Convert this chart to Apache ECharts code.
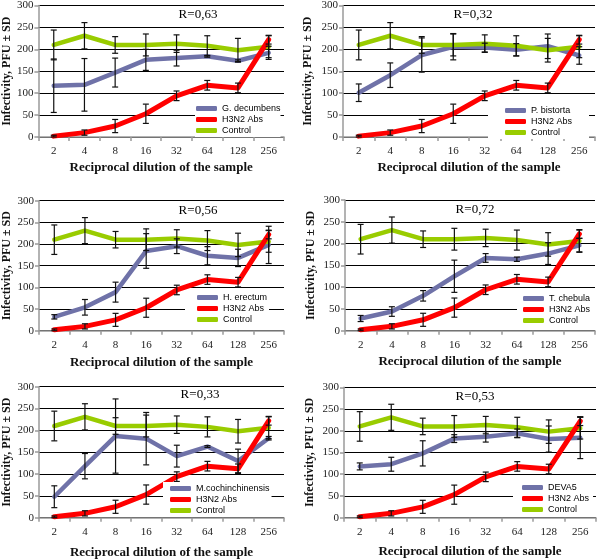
<!DOCTYPE html>
<html><head><meta charset="utf-8">
<script src="https://cdn.jsdelivr.net/npm/echarts@6/dist/echarts.min.js"></script>
<style>html,body{margin:0;padding:0;background:#fff}#c{width:600px;height:560px}</style>
</head><body><div id="c"></div>
<script>
// ---------- data ----------
const dilutions = ['2','4','8','16','32','64','128','256'];
const yTicks = [0,50,100,150,200,250,300];
const controlMean = [210,231,210,210,213,208,198,206];
const controlSD   = [34,30,19,25,20,23,27,25];
const h3n2Mean = [2,10,25,53,94,118,112,222];
const h3n2SD   = [2,6,15,22,11,11,11,10];
const sampleNames = ['G. decumbens','P. bistorta','H. erectum','T. chebula','M.cochinchinensis','DEVA5'];
const rLabels = ['R=0,63','R=0,32','R=0,56','R=0,72','R=0,33','R=0,53'];
const gDecumbensMean = [117,119,147,176,180,184,174,192];
const gDecumbensSD   = [61,60,33,24,18,2,2,15];
const pBistortaMean  = [101,141,187,206,204,199,207,186];
const pBistortaSD    = [20,28,39,30,10,14,28,20];
const hErectumMean   = [32,54,89,184,195,173,168,198];
const hErectumSD     = [5,18,23,40,17,21,20,43];
const tChebulaMean   = [28,44,80,125,167,164,177,196];
const tChebulaSD     = [7,11,12,37,10,5,25,16];
const mCochMean      = [48,118,187,181,141,163,130,182];
const mCochSD        = [25,29,85,60,25,2,27,4];
const deva5Mean      = [118,123,148,182,186,194,181,184];
const deva5SD        = [8,16,29,9,12,10,30,48];
const sampleMeans = [gDecumbensMean,pBistortaMean,hErectumMean,tChebulaMean,mCochMean,deva5Mean];
const sampleSDs   = [gDecumbensSD,pBistortaSD,hErectumSD,tChebulaSD,mCochSD,deva5SD];

// ---------- layout ----------
const layouts = [
  {l:38, t:5,     w:246, h:132,  yGap:24, xGap:24, rx:198, ry:15,  lgX:195, lgY:102, pl:1,  pr:0},
  {l:343,t:5,     w:252, h:132,  yGap:29, xGap:24, rx:473, ry:15,  lgX:488, lgY:104, pl:17, pr:17},
  {l:38, t:200.7, w:246, h:130,  yGap:26, xGap:25, rx:198, ry:211, lgX:185, lgY:291, pl:12, pr:2},
  {l:345,t:200,   w:250, h:130.7,yGap:28, xGap:24, rx:475, ry:210, lgX:517, lgY:292, pl:6,  pr:8},
  {l:38, t:386.7, w:246, h:131,  yGap:26, xGap:28, rx:200, ry:395, lgX:163, lgY:482, pl:7,  pr:2},
  {l:344,t:387.3, w:252, h:130.4,yGap:28, xGap:27, rx:475, ry:397, lgX:513, lgY:481, pl:9,  pr:4}
];

const COL_SAMPLE = '#6f72a8', COL_H3N2 = '#ff0000', COL_CTRL = '#99cc00';
const SERIF = 'Liberation Serif', SANS = 'Liberation Sans';
const axisGray = '#9a9a9a';

function errData(mean, sd){
  return mean.map((m,i)=>[i, Math.max(0,m-sd[i]), m+sd[i]]);
}
function errRender(params, api){
  const x = api.value(0), lo = api.value(1), hi = api.value(2);
  const a = api.coord([x, lo]), b = api.coord([x, hi]);
  const w = 3;
  const st = {stroke:'#111', lineWidth:1.2};
  return {type:'group', children:[
    {type:'line', shape:{x1:a[0],y1:a[1],x2:b[0],y2:b[1]}, style:st},
    {type:'line', shape:{x1:a[0]-w,y1:a[1],x2:a[0]+w,y2:a[1]}, style:st},
    {type:'line', shape:{x1:b[0]-w,y1:b[1],x2:b[0]+w,y2:b[1]}, style:st}
  ]};
}

const grid=[], xAxis=[], yAxis=[], series=[], legend=[], graphic=[];
layouts.forEach((L,i)=>{
  grid.push({left:L.l, top:L.t, width:L.w, height:L.h});
  xAxis.push({
    type:'category', gridIndex:i, data:dilutions, boundaryGap:true, z:1,
    axisLine:{lineStyle:{color:axisGray, width:1.5}},
    axisTick:{show:true, length:4, lineStyle:{color:axisGray, width:1.5}},
    axisLabel:{margin:9, fontFamily:SERIF, fontSize:11, color:'#222'},
    splitLine:{show:false},
    name:'Reciprocal dilution of the sample', nameLocation:'middle', nameGap:L.xGap,
    nameTextStyle:{fontFamily:SERIF, fontSize:13, fontWeight:'bold', color:'#111'}
  });
  yAxis.push({
    type:'value', gridIndex:i, min:yTicks[0], max:yTicks[yTicks.length-1], interval:yTicks[1]-yTicks[0],
    axisLine:{show:true, lineStyle:{color:axisGray, width:1.5}},
    axisTick:{show:true, length:4, lineStyle:{color:axisGray, width:1.5}},
    axisLabel:{margin:5, fontFamily:SERIF, fontSize:11, color:'#222'},
    splitLine:{show:true, lineStyle:{color:'#000', width:1}},
    name:'Infectivity, PFU ± SD', nameLocation:'middle', nameGap:L.yGap,
    nameTextStyle:{fontFamily:SERIF, fontSize:12, fontWeight:'bold', color:'#111'}
  });
  const lineCommon = {type:'line', xAxisIndex:i, yAxisIndex:i, symbol:'none', silent:true, animation:false};
  series.push(Object.assign({}, lineCommon, {name:sampleNames[i], data:sampleMeans[i], z:2,
    itemStyle:{color:COL_SAMPLE}, lineStyle:{color:COL_SAMPLE, width:4.5, cap:'round', join:'round'}}));
  series.push(Object.assign({}, lineCommon, {name:'Control', data:controlMean, z:2,
    itemStyle:{color:COL_CTRL}, lineStyle:{color:COL_CTRL, width:4.5, cap:'round', join:'round'}}));
  series.push(Object.assign({}, lineCommon, {name:'H3N2 Abs', data:h3n2Mean, z:2,
    itemStyle:{color:COL_H3N2}, lineStyle:{color:COL_H3N2, width:5, cap:'round', join:'round'}}));
  [[sampleMeans[i],sampleSDs[i]],[controlMean,controlSD],[h3n2Mean,h3n2SD]].forEach(([m,s])=>{
    series.push({type:'custom', xAxisIndex:i, yAxisIndex:i, renderItem:errRender, data:errData(m,s),
      encode:{x:0, y:[1,2]}, z:3, silent:true, animation:false});
  });
  legend.push({
    data:[sampleNames[i],'H3N2 Abs','Control'], orient:'vertical',
    left:L.lgX, top:L.lgY, padding:[1,L.pr,1,L.pl], itemGap:0, itemWidth:21, itemHeight:5,
    icon:'roundRect', backgroundColor:'#fff', selectedMode:false,
    textStyle:{fontFamily:SANS, fontSize:9, lineHeight:11, color:'#000'}
  });
  graphic.push({type:'text', x:L.rx, y:L.ry, z:10,
    style:{text:rLabels[i], font:'13px "Liberation Serif"', fill:'#000', textAlign:'center', textVerticalAlign:'middle'}});
});

const chart = echarts.init(document.getElementById('c'), null, {renderer:'canvas'});
chart.setOption({animation:false, grid, xAxis, yAxis, series, legend, graphic});
</script></body></html>
